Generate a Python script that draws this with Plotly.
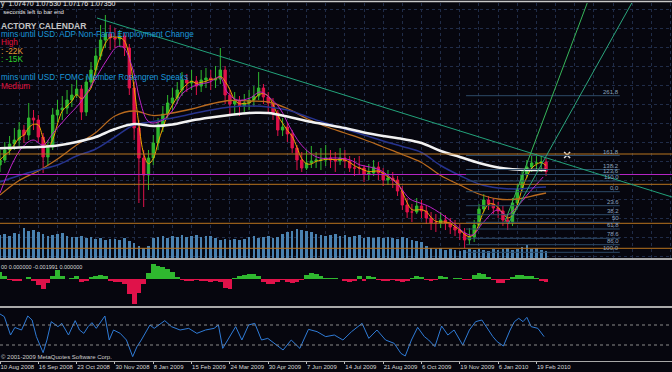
import plotly.graph_objects as go
import pandas as pd

W, H = 672, 372

# ---------------- data ----------------
bars = list(range(115))

opens = [1.080,1.085,1.095,1.101,1.105,1.115,1.110,1.127,1.125,1.108,
         1.088,1.098,1.130,1.135,1.137,1.145,1.150,1.156,1.133,1.163,
         1.175,1.189,1.205,1.211,1.207,1.206,1.209,1.197,1.157,1.117,
         1.087,1.070,1.087,1.102,1.118,1.131,1.142,1.147,1.155,1.165,
         1.162,1.164,1.159,1.165,1.167,1.165,1.166,1.175,1.150,1.141,
         1.144,1.139,1.142,1.145,1.149,1.157,1.148,1.142,1.132,1.115,
         1.118,1.111,1.097,1.085,1.077,1.082,1.084,1.085,1.085,1.087,
         1.085,1.084,1.087,1.084,1.077,1.077,1.077,1.071,1.072,1.078,
         1.072,1.065,1.067,1.065,1.054,1.040,1.033,1.033,1.039,1.034,
         1.027,1.022,1.022,1.025,1.022,1.018,1.015,1.012,1.005,1.008,
         1.020,1.036,1.045,1.041,1.037,1.034,1.025,1.022,1.042,1.056,
         1.070,1.078,1.082,1.082,1.083]
closes = [1.085,1.095,1.101,1.105,1.115,1.110,1.127,1.125,1.108,1.088,
          1.098,1.130,1.135,1.137,1.145,1.150,1.156,1.133,1.163,1.175,
          1.189,1.205,1.211,1.207,1.206,1.209,1.197,1.157,1.117,1.087,
          1.070,1.087,1.102,1.118,1.131,1.142,1.147,1.155,1.165,1.162,
          1.164,1.159,1.165,1.167,1.165,1.166,1.175,1.150,1.141,1.144,
          1.139,1.142,1.145,1.149,1.157,1.148,1.142,1.132,1.115,1.118,
          1.111,1.097,1.085,1.077,1.082,1.084,1.085,1.085,1.087,1.085,
          1.084,1.087,1.084,1.077,1.077,1.077,1.071,1.072,1.078,1.072,
          1.065,1.067,1.065,1.054,1.040,1.033,1.033,1.039,1.034,1.027,
          1.022,1.022,1.025,1.022,1.018,1.015,1.012,1.005,1.008,1.020,
          1.036,1.045,1.041,1.037,1.034,1.025,1.022,1.042,1.056,1.070,
          1.078,1.082,1.082,1.083,1.0735]
highs = [1.095,1.103,1.109,1.117,1.123,1.120,1.142,1.135,1.130,1.112,
         1.105,1.137,1.145,1.149,1.155,1.161,1.165,1.160,1.169,1.183,
         1.197,1.220,1.230,1.220,1.217,1.215,1.212,1.201,1.163,1.125,
         1.095,1.095,1.110,1.127,1.139,1.150,1.157,1.163,1.173,1.171,
         1.175,1.169,1.175,1.177,1.175,1.179,1.197,1.179,1.155,1.153,
         1.149,1.151,1.155,1.159,1.173,1.161,1.153,1.147,1.135,1.127,
         1.123,1.115,1.100,1.093,1.095,1.099,1.093,1.097,1.100,1.095,
         1.093,1.097,1.095,1.089,1.087,1.089,1.080,1.081,1.085,1.083,
         1.077,1.075,1.073,1.069,1.059,1.047,1.041,1.047,1.045,1.039,
         1.033,1.031,1.033,1.030,1.027,1.025,1.021,1.017,1.017,1.025,
         1.041,1.051,1.049,1.047,1.043,1.039,1.031,1.047,1.061,1.075,
         1.085,1.090,1.091,1.089,1.087]
lows = [1.073,1.082,1.090,1.095,1.099,1.102,1.105,1.115,1.103,1.072,
        1.080,1.095,1.123,1.125,1.131,1.138,1.147,1.125,1.129,1.157,
        1.170,1.185,1.197,1.195,1.197,1.198,1.189,1.150,1.105,1.042,
        1.038,1.055,1.080,1.095,1.113,1.127,1.135,1.141,1.149,1.153,
        1.155,1.150,1.153,1.157,1.155,1.157,1.161,1.141,1.129,1.131,
        1.129,1.133,1.135,1.139,1.145,1.141,1.133,1.125,1.109,1.109,
        1.103,1.092,1.075,1.073,1.075,1.077,1.077,1.075,1.079,1.077,
        1.073,1.080,1.077,1.073,1.069,1.070,1.063,1.065,1.069,1.065,
        1.059,1.060,1.057,1.049,1.035,1.027,1.023,1.031,1.027,1.021,
        1.015,1.013,1.017,1.015,1.011,1.009,1.005,0.997,1.000,1.003,
        1.017,1.033,1.035,1.031,1.027,1.019,1.015,1.019,1.037,1.053,
        1.067,1.073,1.075,1.073,1.069]
volumes = [2300,2400,2200,2500,2400,3000,2700,2800,2600,2400,
           2200,2300,2400,2500,2200,2100,2100,2200,2000,2100,
           1900,2000,1800,1900,1900,1800,2000,1700,1500,1200,
           1000,1200,2000,2100,2200,2000,2200,2100,2300,2100,
           2200,2300,2100,2200,2200,2000,1800,1900,1800,1900,
           1800,1900,2100,2200,2000,2100,2200,2000,2100,2400,
           2600,2700,2900,2800,2700,2600,2400,2300,2200,2300,
           2400,2200,2300,2100,2200,2300,2000,2100,2000,2100,
           2000,2100,2000,1900,2100,2000,1800,1700,1600,1200,
           1000,900,1000,800,900,800,700,800,900,800,
           900,800,700,900,800,900,1000,800,900,1100,
           1300,900,1000,800,700]
macd_hist = [0.0035,0.0015,-0.0005,-0.001,-0.001,0.0,0.001,-0.001,-0.003,-0.005,
             -0.002,0.0015,0.0045,0.0015,0.0,0.0005,0.0015,-0.0015,-0.001,0.001,
             0.0015,0.002,0.0015,-0.001,-0.0015,-0.0015,-0.0025,-0.0075,-0.0125,-0.007,
             -0.0025,0.003,0.0075,0.0065,0.006,0.005,0.0035,0.001,-0.0005,-0.001,
             -0.001,-0.0005,-0.001,-0.001,-0.0015,-0.001,-0.0015,-0.0045,-0.005,0.0005,
             0.0015,0.002,0.0025,0.0025,0.0015,-0.0015,-0.0025,-0.0025,-0.0015,-0.0005,
             -0.0015,-0.002,-0.0015,-0.0005,0.002,0.003,0.0025,0.0015,0.0005,0.0005,
             0.0005,0.0,-0.001,-0.0015,-0.001,0.0015,-0.001,0.0015,0.001,-0.0005,
             -0.001,-0.001,-0.0005,-0.001,-0.0015,-0.001,0.0005,0.0015,0.001,-0.0005,
             -0.001,-0.0005,0.0015,0.001,0.0,0.0005,0.0005,-0.0005,-0.0005,0.002,
             0.003,0.0025,0.001,-0.0005,-0.002,-0.002,-0.0005,0.001,0.002,0.002,
             0.0015,0.0015,0.0005,-0.001,-0.0015]
rsi_bar = [0.0,0.9,2.2,3.1,4.5,5.8,6.7,7.6,9.0,9.8,10.7,12.1,12.9,14.3,15.7,16.6,17.5,18.4,19.2,20.1,
           21.9,22.8,23.7,25.1,26.4,27.7,28.6,29.5,31.3,32.2,34.4,35.8,37.6,39.4,41.1,42.9,44.7,45.6,46.5,47.9,
           49.2,50.5,51.9,53.2,54.6,55.9,57.3,59.1,60.8,62.6,64.4,66.2,68.0,69.8,71.6,73.4,75.6,77.0,78.7,80.5,
           82.3,83.7,84.6,85.9,87.2,88.6,89.5,90.8,92.2,93.5,94.8,96.6,98.0,99.3,100.6,102.0,102.9,103.8,105.1,106.5,
           107.4,108.3,109.2,110.0,110.9,112.3,113.6]
rsi = [92,86.7,50,65,60,88,80,46.7,14.7,40,76.7,66.7,73.3,50,78.7,60,53.3,66.7,74.7,63.3,
       88,40,60,53.3,40,6.7,26.7,40,70,63.3,78.7,66.7,60,63.3,53.3,60,63.3,70,23.3,46.7,
       66.7,40,70,73.3,40,43.3,33.3,20,40,23.3,61.3,56.7,46.7,50,40,56.7,73.3,43.3,60,40,
       33.3,13.3,8,40,65.3,46.7,40,26.7,68,50,60,30,60,76.7,80,60,46.7,36.7,28,60,
       76.7,83.3,76.7,85.3,66.7,63.3,46.7]

ma_bar = [0,4,8,12,16,20,24,28,32,36,40,44,48,52,56,60,64,68,72,76,80,84,88,92,96,100,104,108,112,114]
ma_white = [1.0967,1.0975,1.098,1.0995,1.103,1.108,1.116,1.121,1.119,1.1205,1.1245,1.1275,1.130,1.132,1.132,
            1.1285,1.124,1.1205,1.117,1.1125,1.109,1.106,1.102,1.094,1.088,1.082,1.0775,1.0755,1.075,1.075]
ma_navy = [1.063,1.0695,1.075,1.080,1.089,1.096,1.108,1.120,1.1235,1.127,1.131,1.135,1.138,1.139,1.138,
           1.135,1.1285,1.122,1.116,1.110,1.104,1.0985,1.0925,1.0795,1.0695,1.061,1.057,1.056,1.0575,1.058]
ma_orange = [1.050,1.0645,1.074,1.086,1.100,1.1125,1.129,1.134,1.1295,1.132,1.136,1.141,1.1445,1.144,1.143,
             1.1365,1.1265,1.1185,1.112,1.1055,1.098,1.0905,1.0825,1.0695,1.060,1.051,1.046,1.046,1.050,1.052]
mag_bar = [0,4.2,6.9,9.0,11.1,14.0,16.7,19.4,22.3,24.4,25.7,27.8,29.2,30.7,31.9,34.0,36.1,38.2,41.1,43.8,
           45.9,47.4,49.5,52.2,54.3,56.4,58.5,60.5,62.6,64.7,66.8,70.4,73.1,75.2,77.2,79.3,81.4,83.5,85.6,87.7,
           89.8,93.9,97.1,98.7,100.8,103.8,105.8,107.9,110.6,113.4]
ma_magenta = [1.052,1.095,1.105,1.100,1.112,1.128,1.142,1.162,1.185,1.198,1.198,1.175,1.145,1.125,1.122,1.125,
              1.135,1.152,1.160,1.163,1.168,1.153,1.145,1.147,1.153,1.147,1.136,1.118,1.102,1.092,1.087,1.087,
              1.085,1.080,1.078,1.075,1.068,1.058,1.046,1.042,1.038,1.025,1.012,1.010,1.022,1.035,1.030,1.038,
              1.053,1.068]

date_ticks = [0,8,16,24,32,40,48,56,64,72,80,88,96,104,112]
date_labels = ["10 Aug 2008","16 Sep 2008","23 Oct 2008","30 Nov 2008","8 Jan 2009","15 Feb 2009",
               "24 Mar 2009","30 Apr 2009","7 Jun 2009","14 Jul 2009","21 Aug 2009","6 Oct 2009",
               "19 Nov 2009","6 Jan 2010","19 Feb 2010"]

fib_levels = ["261.8","161.8","138.2","123.6","110.0","0.0","23.6","38.2","50","61.8","78.6","86.0","100.0"]
fib_prices = [1.1493,1.0895,1.0755,1.0705,1.064,1.0533,1.0393,1.0303,1.0227,1.016,1.0067,1.0003,0.9927]
fib_span = [97.3, 129.4]

hl_orange = [1.091,1.0607,1.0217,0.9967]
hl_magenta = [1.0705]

trend_desc = [(20.25, 1.227), (140.3, 1.048)]
trend_fan_a = [(105.4, 1.023), (122.6, 1.242)]
trend_fan_b = [(106.1, 1.021), (131.9, 1.242)]
cross_mark = [(118.4, 1.090)]

header = [
    ("y  1.07470 1.07530 1.07176 1.07350", "#e6e6e6", 7, False, 4.5, 0),
    ("\u2009seconds left to bar end", "#e6e6e6", 6, False, 12.5, 1),
    ("ACTORY CALENDAR", "#c4c4c4", 8.5, True, 25.5, 0),
    ("mins until USD: ADP Non-Farm Employment Change", "#1b98da", 8.2, False, 34.3, 0),
    ("High", "#e2123e", 8.2, False, 42.5, 0),
    (": -22K", "#e69a36", 8.2, False, 51.5, 0),
    (": -15K", "#2ccd2c", 8.2, False, 60, 0),
    ("mins until USD: FOMC Member Rosengren Speaks", "#1b98da", 8.2, False, 77.3, 0),
    ("Medium", "#e2123e", 8.2, False, 86, 0),
]
macd_label = "00 0.000000 -0.001991 0.000000"
copyright_text = "\u00a9 2001-2009 MetaQuotes Software Corp."

# ---------------- styling ----------------
BG = "#06060e"
GRID = "#202c48"
UP = "#2fb82f"
DN = "#e0124a"
FONT = "Liberation Sans"

def py(p):
    return 1 - p / H

fig = go.Figure()

fig.add_trace(go.Candlestick(
    x=bars, open=opens, high=highs, low=lows, close=closes, xaxis="x", yaxis="y",
    increasing=dict(line=dict(color=UP, width=1), fillcolor=UP),
    decreasing=dict(line=dict(color=DN, width=1), fillcolor=DN),
    whiskerwidth=0, hoverinfo="skip"))

fast = pd.Series(closes).rolling(3, min_periods=1).mean()
fig.add_trace(go.Scatter(x=bars, y=fast, mode="lines", line=dict(color="#f0a400", width=1, shape="spline"),
                         xaxis="x", yaxis="y", hoverinfo="skip"))
fig.add_trace(go.Scatter(x=ma_bar, y=ma_orange, mode="lines", line=dict(color="#b96a1e", width=1.3, shape="spline"),
                         xaxis="x", yaxis="y", hoverinfo="skip"))
fig.add_trace(go.Scatter(x=ma_bar, y=ma_navy, mode="lines", line=dict(color="#26338e", width=1.5, shape="spline"),
                         xaxis="x", yaxis="y", hoverinfo="skip"))
fig.add_trace(go.Scatter(x=mag_bar, y=ma_magenta, mode="lines", line=dict(color="#c022c8", width=1, shape="spline"),
                         xaxis="x", yaxis="y", hoverinfo="skip"))
fig.add_trace(go.Scatter(x=ma_bar, y=ma_white, mode="lines", line=dict(color="#f2f2f2", width=2.5, shape="spline"),
                         xaxis="x", yaxis="y", hoverinfo="skip"))
fig.add_trace(go.Scatter(x=[c[0] for c in cross_mark], y=[c[1] for c in cross_mark], mode="markers",
                         marker=dict(symbol="x-thin", size=6, line=dict(color="#e0e0e0", width=1.5)),
                         xaxis="x", yaxis="y", hoverinfo="skip"))

fig.add_trace(go.Bar(x=bars, y=volumes, xaxis="x", yaxis="y4", width=0.55,
                     marker=dict(color="#4a82b0", line=dict(width=0)), hoverinfo="skip"))

fig.add_trace(go.Bar(x=bars, y=macd_hist, xaxis="x2", yaxis="y2", width=1.0,
                     marker=dict(color=[UP if v >= 0 else DN for v in macd_hist], line=dict(width=0)),
                     hoverinfo="skip"))

fig.add_trace(go.Scatter(x=rsi_bar, y=rsi, mode="lines", line=dict(color="#2f7bd6", width=1),
                         xaxis="x3", yaxis="y3", hoverinfo="skip"))

XR = [0, 140.3]
main_dom = [py(258), py(3)]
macd_dom = [py(306), py(260)]
rsi_dom = [py(361), py(308)]

fig.update_layout(
    width=W, height=H, margin=dict(l=0, r=0, t=0, b=0),
    paper_bgcolor=BG, plot_bgcolor=BG, showlegend=False, hovermode=False,
    font=dict(family=FONT, color="#d0d0d0"),
    xaxis=dict(domain=[0, 1], range=XR, anchor="y", showticklabels=False, ticks="",
               showgrid=True, gridcolor=GRID, griddash="dot", gridwidth=1, tick0=0, dtick=4,
               zeroline=False, rangeslider=dict(visible=False), automargin=False),
    yaxis=dict(domain=main_dom, range=[0.987, 1.242], showticklabels=False, ticks="",
               showgrid=True, gridcolor=GRID, griddash="dot", tick0=1.2357, dtick=0.019,
               zeroline=False, automargin=False),
    yaxis4=dict(overlaying="y", range=[0, 25500], showticklabels=False, showgrid=False,
                zeroline=False, automargin=False),
    xaxis2=dict(domain=[0, 1], matches="x", anchor="y2", showticklabels=False, showgrid=False,
                zeroline=False, automargin=False),
    yaxis2=dict(domain=macd_dom, range=[-0.0135, 0.0095], showticklabels=False, showgrid=False,
                zeroline=False, automargin=False),
    xaxis3=dict(domain=[0, 1], matches="x", anchor="y3", showgrid=False, zeroline=False,
                tickmode="array", tickvals=date_ticks, ticktext=date_labels,
                ticks="outside", ticklen=2, tickcolor="#bdbdbd", tickwidth=1, tickangle=0,
                ticklabelposition="outside right",
                tickfont=dict(family=FONT, size=6, color="#d6d6d6"), automargin=False),
    yaxis3=dict(domain=rsi_dom, range=[-2, 104], showticklabels=False, showgrid=False,
                zeroline=False, automargin=False),
    bargap=0,
)

shapes = []
for p in hl_orange:
    shapes.append(dict(type="line", xref="paper", yref="y", x0=0, x1=1, y0=p, y1=p,
                       line=dict(color="#b8741f", width=1)))
for p in hl_magenta:
    shapes.append(dict(type="line", xref="paper", yref="y", x0=0, x1=1, y0=p, y1=p,
                       line=dict(color="#b424c4", width=1)))
for p in fib_prices:
    shapes.append(dict(type="line", xref="x", yref="y", x0=fib_span[0], x1=fib_span[1], y0=p, y1=p,
                       line=dict(color="#2d4a68", width=1)))
for (a, b), col in [(trend_desc, "#22a27a"), (trend_fan_a, "#37b65a"), (trend_fan_b, "#2ca67e")]:
    shapes.append(dict(type="line", xref="x", yref="y", x0=a[0], y0=a[1], x1=b[0], y1=b[1],
                       line=dict(color=col, width=1)))
for lvl in [70, 30]:
    shapes.append(dict(type="line", xref="paper", yref="y3", x0=0, x1=1, y0=lvl, y1=lvl,
                       line=dict(color="#8a8a8a", width=1, dash="dot")))
for ypx, col, wdt in [(1.5, "#c8c8c8", 1.5), (259, "#a8a8a8", 2), (307, "#a8a8a8", 2), (361.5, "#a8a8a8", 1)]:
    shapes.append(dict(type="line", xref="paper", yref="paper", x0=0, x1=1, y0=py(ypx), y1=py(ypx),
                       line=dict(color=col, width=wdt)))
fig.update_layout(shapes=shapes)

ann = []
for text, col, size, bold, ypx, xpx in header:
    ann.append(dict(text=("<b>%s</b>" % text) if bold else text, x=xpx / W, y=py(ypx),
                    xref="paper", yref="paper", xanchor="left", yanchor="middle", showarrow=False,
                    borderpad=0, font=dict(family=FONT, size=size, color=col)))
for lab, p in zip(fib_levels, fib_prices):
    ann.append(dict(text=lab, x=fib_span[1], y=p, xref="x", yref="y", xanchor="right", yanchor="bottom",
                    showarrow=False, borderpad=0, font=dict(family=FONT, size=6, color="#8ca3bd")))
ann.append(dict(text=macd_label, x=0, y=py(267), xref="paper", yref="paper", xanchor="left", yanchor="middle",
                showarrow=False, borderpad=0, font=dict(family=FONT, size=5.5, color="#d8d8d8")))
ann.append(dict(text=copyright_text, x=0, y=py(356.5), xref="paper", yref="paper", xanchor="left",
                yanchor="middle", showarrow=False, borderpad=0, font=dict(family=FONT, size=6, color="#cfcfcf")))
fig.update_layout(annotations=ann)

fig.write_html("out.html", config={"displayModeBar": False},
               post_script="document.body.style.margin='0px';document.body.style.background='%s';" % BG)
